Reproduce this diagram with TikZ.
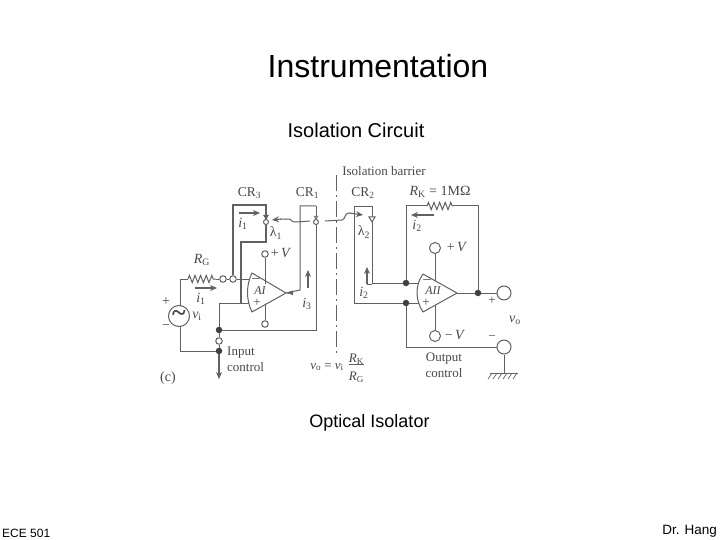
\documentclass[tikz,border=0pt]{standalone}
\usepackage{fontspec}
\setmainfont{Liberation Sans}
\newfontfamily\figfont{Liberation Serif}
\usetikzlibrary{decorations.pathmorphing,arrows.meta}
\definecolor{wire}{gray}{0.38}
\definecolor{figtext}{gray}{0.28}
\newcommand{\vsym}[2]{\textit{#1}\textsubscript{#2}}
\tikzset{
  wireline/.style={draw=wire,line width=1pt},
  thickwire/.style={draw=wire,line width=1.05pt},
  term/.style={circle,draw=wire,line width=1pt,fill=white,inner sep=0pt,minimum size=#1},
  term/.default=6.5pt,
  bigterm/.style={term=14pt},
  junct/.style={circle,fill=black!75,draw=none,inner sep=0pt,minimum size=6.5pt},
  lab/.style={text=figtext,font=\figfont\fontsize{#1}{#1}\selectfont,inner sep=0pt},
  lab/.default=13pt,
  sym/.style={text=figtext,font=\figfont\fontsize{14}{14}\selectfont,inner sep=0pt},
  slide/.style={inner sep=0pt,text=black},
  flow/.style={wireline,-{Stealth[length=7pt,width=6pt]},line width=1.1pt},
  zz/.style={wireline,decorate,decoration={zigzag,segment length=5.6pt,amplitude=3.6pt}},
  amp/.style={wireline,fill=white,line join=round},
  dbar/.style={draw=wire,line width=0.9pt,dash pattern=on 16pt off 4pt on 2pt off 4pt},
}
\begin{document}
\begin{tikzpicture}[x=1pt,y=-1pt]
\useasboundingbox (0,0) rectangle (720,540);
% slide texts
\node[slide,font=\fontsize{32}{32}\selectfont] (title) at (378,66) {Instrumentation};
\node[slide,font=\fontsize{20}{20}\selectfont] (sub) at (356,130) {Isolation Circuit};
\node[slide,font=\fontsize{18}{18}\selectfont] (cap) at (369.5,423) {Optical Isolator};
\node[slide,font=\fontsize{12}{12}\selectfont,anchor=west] (ece) at (2,533) {ECE 501};
\node[slide,font=\fontsize{13.5}{13.5}\selectfont,anchor=east] (dr) at (717,531) {Dr. Hang};

% barrier
\coordinate (bt) at (336,175); \coordinate (bb) at (336,356);
\draw[dbar] (bt) -- (bb);

% left side nodes
\node[term=21pt,font=\figfont\bfseries\fontsize{26}{26}\selectfont,text=figtext] (src) at (179,316) {\raisebox{-2pt}{\char"007E}};
\node[term] (rgout) at (223,279) {};
\node[term] (cr3in) at (233,279) {};
\node[term] (vpa) at (265,254) {};
\node[term] (vma) at (265,324) {};
\node[junct] (ja) at (219,330) {};
\node[term] (tb) at (219,341) {};
\node[junct] (jb) at (219,351) {};
\coordinate (ctl) at (219,379);
\coordinate (rga) at (188,279);
\coordinate (rgb) at (216,279);
\coordinate (srct) at (180,279);
\coordinate (a1m) at (250,279);
\coordinate (a1p) at (250,303);
\coordinate (a1o) at (286,293);
\coordinate (a1t) at (252,273);
\coordinate (a1b) at (252,312);
\coordinate (n1) at (241,242);
\coordinate (n2) at (266,242);
\coordinate (cr3tl) at (233,205);
\coordinate (cr3tr) at (266,205);
\coordinate (cr1tl) at (300,206);
\coordinate (cr1tr) at (316,206);
\coordinate (a1j) at (219,303);

% left wires
\draw[wireline] (180,306) -- (srct) -- (rga);
\draw[zz] (rga) -- (rgb);
\draw[wireline] (rgb) -- (rgout);
\draw[wireline] (rgout) -- (cr3in);
\draw[wireline] (cr3in) -- (a1m);
\draw[thickwire] (cr3in) -- (cr3tl) -- (cr3tr) -- (n2) -- (n1) -- (241,303);
\draw[wireline] (180,326) |- (jb);
\draw[wireline] (a1j) -- (a1p);
\draw[wireline] (a1j) -- (ja);
\draw[wireline] (ja) -- (tb);
\draw[wireline] (tb) -- (jb);
\draw[flow] (jb) -- (ctl);
\draw[wireline] (ja) -| (cr1tr);
\draw[wireline] (cr1tr) -- (cr1tl) -- (300,290) -- (a1o);
% op amp 1
\draw[amp] (a1t) .. controls (246,285) and (246,300) .. (a1b) -- (a1o) -- cycle;
\draw[wireline] (vpa) -- (265,284);
\draw[wireline] (vma) -- (265,304);
\fill[wire] (286,293) -- (293,290.5) -- (293,295) -- cycle;

% diodes
\fill[wire] (263,215) -- (269,215) -- (266,219.5) -- cycle;
\node[term=5pt] (d3) at (266,222) {};
\fill[wire!80] (313.5,216) -- (318.5,216) -- (316,220) -- cycle;
\node[term=5pt] (d1) at (316,222) {};
\draw[wireline,fill=white] (369,217) -- (375,217) -- (372,222) -- cycle;
\coordinate (d2) at (372,222);

% light paths
\coordinate (w1a) at (310,221);
\coordinate (w1b) at (272,220);
\draw[wireline] (w1a) -- (296,222) .. controls (291,223) and (292,218) .. (287,219) .. controls (285,219.5) and (284,219) .. (280,219);
\draw[flow] (281,219) -- (w1b);
\coordinate (w2a) at (325,221);
\coordinate (w2b) at (363,215);
\draw[wireline] (w2a) -- (342,220) .. controls (346,219) and (344,213) .. (349,213);
\draw[flow] (349,213) -- (w2b);

% right side nodes
\node[junct] (jc) at (406,283) {};
\node[junct] (jd) at (406,303) {};
\node[junct] (je) at (478,293) {};
\node[bigterm] (oa) at (504,293) {};
\node[bigterm] (ob) at (504,347) {};
\node[term=11pt] (vpb) at (435,248) {};
\node[term=11pt] (vmb) at (435,336) {};
\coordinate (a2m) at (419,283);
\coordinate (a2p) at (419,303);
\coordinate (a2o) at (457,293);
\coordinate (a2t) at (423,274);
\coordinate (a2b) at (423,312);
\coordinate (cr2tl) at (354,207);
\coordinate (cr2tr) at (372,207);
\coordinate (rka) at (427,206);
\coordinate (rkb) at (453,206);
\coordinate (gnd) at (504,373);

% right wires
\draw[wireline] (d2) -- (372,283) -- (jc);
\draw[wireline] (372,217) -- (cr2tr) -- (cr2tl) -- (354,303) -- (jd);
\draw[wireline] (jc) -- (a2m);
\draw[wireline] (jd) -- (a2p);
\draw[wireline] (jc) -- (406,206) -- (rka);
\draw[zz] (rka) -- (rkb);
\draw[wireline] (rkb) -- (478,206) -- (je);
\draw[wireline] (a2o) -- (je);
\draw[wireline] (je) -- (oa);
\draw[wireline] (jd) |- (ob);
\draw[wireline] (ob) -- (gnd);
\draw[amp] (a2t) .. controls (415,285) and (415,300) .. (a2b) -- (a2o) -- cycle;
\draw[wireline] (vpb) -- (435,281);
\draw[wireline] (vmb) -- (435,305);
% ground
\coordinate (ga) at (490,373);
\coordinate (gb) at (518,373);
\draw[wireline] (ga) -- (gb);
\foreach \gx in {492,497,...,517} \draw[wire,line width=0.7pt] (\gx,373) -- (\gx-4,379);

% current arrows
\draw[flow] (239,213) -- (260,213);
\draw[flow] (308,288) -- (308,270);
\draw[flow] (434,215) -- (411,215);
\draw[flow] (195,288) -- (217,288);
\draw[flow,line width=1.3pt] (367,284) -- (367,267);
\draw[wireline] (367,284) -- (372,284);

% labels
\node[lab=13.5pt] (lcr3) at (249.5,193) {CR\textsubscript{3}};
\node[lab=13.5pt] (lcr1) at (307.5,193) {CR\textsubscript{1}};
\node[lab=13.5pt] (lcr2) at (363,193) {CR\textsubscript{2}};
\node[lab=13pt] (lbar) at (384,171.5) {Isolation barrier};
\node[lab=14pt] (lrk) at (440,192) {\vsym{R}{K} = 1M\symbol{"03A9}};
\node[sym] (lrg) at (202,260) {\vsym{R}{G}};
\node[sym] (li1a) at (243,224) {\vsym{i}{1}};
\node[sym] (li1b) at (201,299) {\vsym{i}{1}};
\node[sym] (li3) at (307,304) {\vsym{i}{3}};
\node[sym] (li2a) at (417,226) {\vsym{i}{2}};
\node[sym] (li2b) at (364,293) {\vsym{i}{2}};
\node[sym] (ll1) at (276,233) {\symbol{"03BB}\textsubscript{1}};
\node[sym] (ll2) at (364,232) {\symbol{"03BB}\textsubscript{2}};
\node[sym] (lvi) at (197,316) {\vsym{v}{i}};
\node[sym] (lvo) at (515,320) {\vsym{v}{o}};
\node[lab=14pt] (lplus) at (166,302) {+};
\node[lab=14pt] (lminus) at (166,327) {\textminus};
\node[lab=13pt] (lop) at (492,301) {+};
\node[lab=13pt] (lom) at (492,338) {\textminus};
\node[lab=14pt] (lpva) at (281,253) {+\,\textit{V}};
\node[lab=14pt] (lpvb) at (457,247) {+\,\textit{V}};
\node[lab=14pt] (lmvb) at (455,335) {\textminus\,\textit{V}};
\node[lab,font=\figfont\itshape\fontsize{12}{12}\selectfont] (la1) at (260,291) {AI};
\node[lab,font=\figfont\itshape\fontsize{12}{12}\selectfont] (la2) at (433,291) {AII};
\node[lab=15pt] (m1) at (256,281) {\textendash};
\node[lab=13pt] (p1) at (257,303) {+};
\node[lab=15pt] (m2) at (427,282) {\textendash};
\node[lab=13pt] (p2) at (426,303) {+};
\node[lab=13pt,anchor=west] (lin) at (227,353) {Input};
\node[lab=13pt,anchor=west] (lin2) at (227,367.5) {control};
\node[lab=13pt] (lout) at (444,359) {Output};
\node[lab=13pt] (lout2) at (444,373) {control};
\node[lab=14pt] (lc) at (168,378) {(c)};
\node[lab=13pt] (leq) at (327,367) {\vsym{v}{o} = \vsym{v}{i}};
\node[lab=13pt] (lfa) at (356.5,359) {\vsym{R}{K}};
\node[lab=13pt] (lfb) at (356.5,377) {\vsym{R}{G}};
\draw[wireline] (lfa.south west) -- (lfa.south east);
\end{tikzpicture}
\end{document}
